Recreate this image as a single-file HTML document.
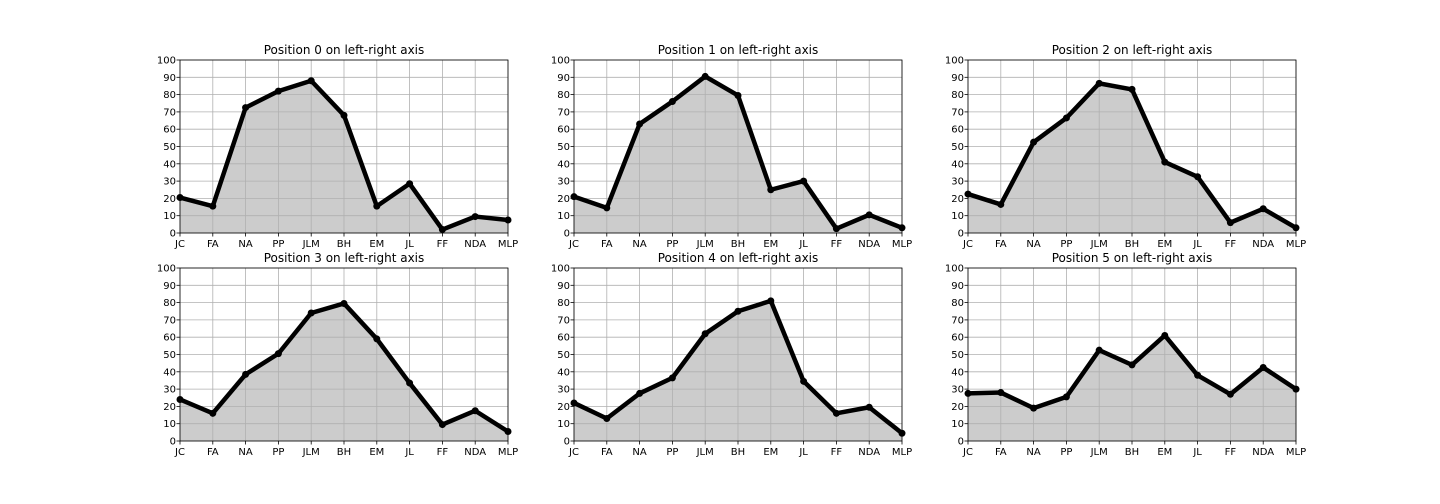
<!DOCTYPE html>
<html><head><meta charset="utf-8"><style>
html,body{margin:0;padding:0;background:#fff;}
svg{display:block;font-family:"DejaVu Sans","Liberation Sans",sans-serif;}
</style></head><body>
<svg id="chart" width="1440" height="504"></svg>
<script>
const categories = ["JC","FA","NA","PP","JLM","BH","EM","JL","FF","NDA","MLP"];
const yTicks = [0,10,20,30,40,50,60,70,80,90,100];
const titles = ["Position 0 on left-right axis","Position 1 on left-right axis","Position 2 on left-right axis","Position 3 on left-right axis","Position 4 on left-right axis","Position 5 on left-right axis"];
const series0 = [20.5,15.5,72.5,82,88,68,15.5,28.5,2,9.5,7.5];
const series1 = [21,14.5,63,76,90.5,79.5,25,30,2.5,10.5,3];
const series2 = [22.5,16.5,52.5,66.5,86.5,83,41,32.5,6,14,3];
const series3 = [24,16,38.5,50.5,74,79.5,59,33.5,9.5,17.5,5.5];
const series4 = [22,13,27.5,36.5,62,75,81,34.5,16,19.5,4.5];
const series5 = [27.5,28,19,25.5,52.5,44,61,38,27,42.5,30];
const allSeries = [series0,series1,series2,series3,series4,series5];

const NS = "http://www.w3.org/2000/svg";
const svg = document.getElementById("chart");
function mk(tag, attrs, parent){const e=document.createElementNS(NS,tag);for(const k in attrs)e.setAttribute(k,attrs[k]);parent.appendChild(e);return e;}
const lefts=[180,574,968], tops=[60,268], W=328, H=173;
allSeries.forEach((vals,i)=>{
  const x0=lefts[i%3], y0=tops[Math.floor(i/3)];
  const sx=j=>x0+j*W/(categories.length-1);
  const sy=v=>y0+H-v/100*H;
  const g=mk("g",{},svg);
  
  
  // fill
  let d="M"+sx(0)+","+sy(0);
  vals.forEach((v,j)=>{d+=" L"+sx(j)+","+sy(v);});
  d+=" L"+sx(vals.length-1)+","+sy(0)+" Z";
  const area=mk("path",{d:d,fill:"#cccccc",stroke:"none"},g);
  
  
  // grid
  yTicks.forEach(t=>{
    const l=mk("line",{x1:x0,x2:x0+W,y1:sy(t),y2:sy(t),stroke:"#b0b0b0","stroke-width":0.8},g);
    
    
    const tl=mk("text",{x:x0-4,y:sy(t)+3.5,"text-anchor":"end","font-size":10},g);
    tl.textContent=t;
    
    
    mk("line",{x1:x0-3.5,x2:x0,y1:sy(t),y2:sy(t),stroke:"#000","stroke-width":0.8},g);
  });
  categories.forEach((c,j)=>{
    const l=mk("line",{x1:sx(j),x2:sx(j),y1:y0,y2:y0+H,stroke:"#b0b0b0","stroke-width":0.8},g);
    
    
    mk("line",{x1:sx(j),x2:sx(j),y1:y0+H,y2:y0+H+3.5,stroke:"#000","stroke-width":0.8},g);
    const tl=mk("text",{x:sx(j),y:y0+H+14,"text-anchor":"middle","font-size":10},g);
    tl.textContent=c;
    
    
  });
  // line
  const pts=vals.map((v,j)=>sx(j)+","+sy(v)).join(" ");
  const pl=mk("polyline",{points:pts,fill:"none",stroke:"#000","stroke-width":4.5,"stroke-linejoin":"round"},g);
  
  
  vals.forEach((v,j)=>{
    const c=mk("circle",{cx:sx(j),cy:sy(v),r:3.5,fill:"#000"},g);
    
    
  });
  const fr=mk("rect",{x:x0,y:y0,width:W,height:H,fill:"none",stroke:"#000","stroke-width":0.8},g);
  
  
  const tt=mk("text",{x:x0+W/2,y:y0-6,"text-anchor":"middle","font-size":12},g);
  tt.textContent=titles[i];
  
  
});
</script>
</body></html>
